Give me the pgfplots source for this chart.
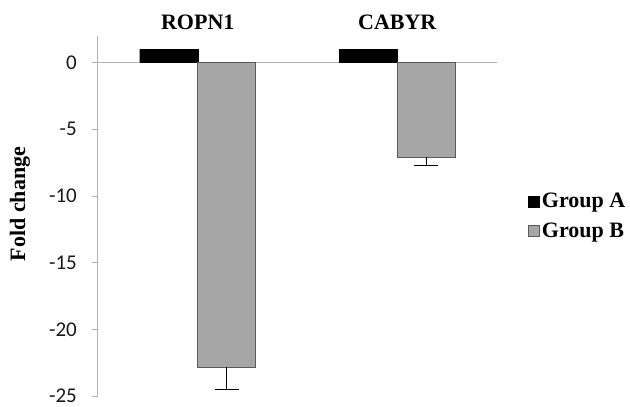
\documentclass[border=0pt]{standalone}
\usepackage{pgfplots}
\pgfplotsset{compat=1.18}
\usepackage{fontspec}
\setmainfont{Liberation Serif}
\setsansfont{Carlito}
\definecolor{axisgray}{HTML}{B0B0B0}
\definecolor{barfill}{HTML}{A6A6A6}
\definecolor{baredge}{HTML}{5A5A5A}
\begin{document}
\begin{tikzpicture}
\useasboundingbox (0,0) rectangle (630pt,407pt);
\begin{axis}[
  at={(98pt,11pt)}, anchor=south west,
  scale only axis, width=399pt, height=360pt,
  xmin=-0.5, xmax=1.5, ymin=-25, ymax=2,
  axis y line=left, axis x line=none,
  y axis line style={-, draw=axisgray, line width=1pt},
  ytick={-25,-20,-15,-10,-5,0},
  yticklabels={-25,-20,-15,-10,-5,0},
  xtick=\empty,
  tick align=outside, major tick length=6pt,
  ytick style={draw=axisgray, line width=0.8pt},
  yticklabel style={font=\sffamily\fontsize{21}{24}\selectfont, anchor=east, inner sep=0pt, text width=40pt, align=right, xshift=-15pt, text=black!90},
  ybar=0pt, bar width=58pt,
  legend style={at={(1.07,0.5)}, anchor=west, draw=none, fill=none,
    font=\bfseries\fontsize{22}{26}\selectfont, row sep=9pt},
  legend cell align=left,
  legend image code/.code={\draw[#1] (0pt,-5.5pt) rectangle (11pt,5.5pt);},
  clip=false,
]
\draw[axisgray, line width=1pt] (axis cs:-0.5,0) -- (axis cs:1.5,0);
\addplot[fill=black, draw=black] coordinates {(0,1) (1,1)};
\addplot[fill=barfill, draw=baredge, line width=0.8pt,
  error bars/.cd, y dir=minus, y explicit,
  error bar style={black, line width=1pt},
  error mark options={black, mark size=12pt, line width=1pt, rotate=90}]
  coordinates {(0,-22.85) -= (0,1.65) (1,-7.1) -= (0,0.6)};
\legend{Group A, Group B}
\node[font=\bfseries\fontsize{22}{26}\selectfont, yshift=14pt] at (axis cs:0,2) {ROPN1};
\node[font=\bfseries\fontsize{22}{26}\selectfont, yshift=14pt] at (axis cs:1,2) {CABYR};
\end{axis}
\node[rotate=90, font=\bfseries\fontsize{22}{26}\selectfont] at (20pt,203pt) {Fold change};
\end{tikzpicture}
\end{document}
